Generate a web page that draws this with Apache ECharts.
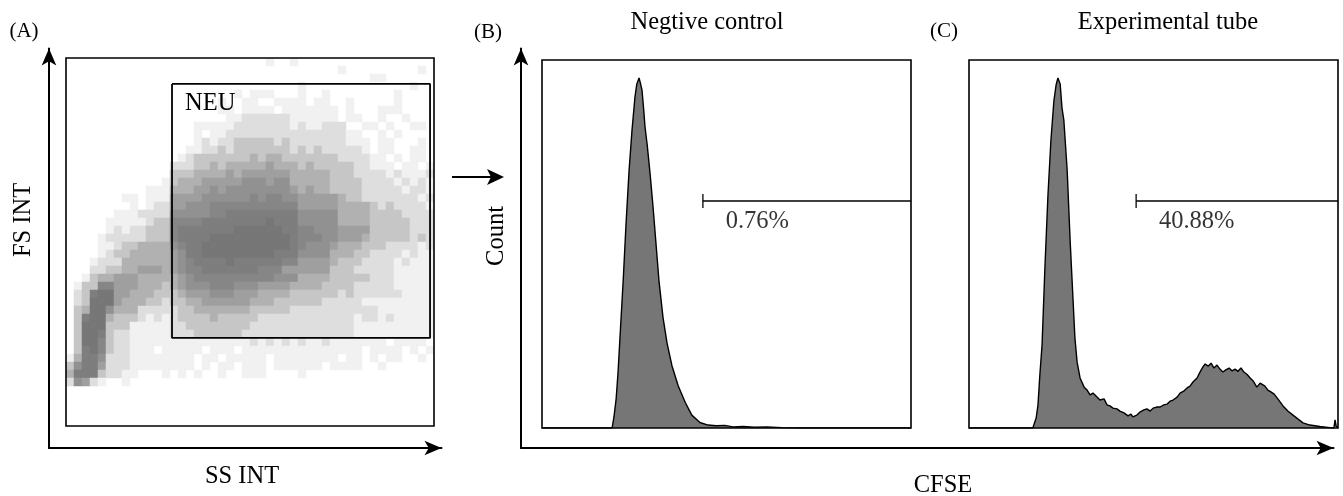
<!DOCTYPE html>
<html>
<head>
<meta charset="utf-8">
<script src="https://cdn.jsdelivr.net/npm/echarts@6/dist/echarts.min.js"></script>
<style>
html,body{margin:0;padding:0;background:#fff;}
#chart{width:1343px;height:496px;}
</style>
</head>
<body>
<div id="chart"></div>
<script>
// ---------- Panel A: SS INT vs FS INT event density (46 x 46 cells, top row first, 0-9) ----------
const densityRows = [
  "0000000000000000000000000100100000000000000000",
  "0000000000000000000000000000000000100000000010",
  "0000000000000000000000000000000000000011000000",
  "0000000000000000000000000000010000000000000100",
  "0000000000000000000001011100010010000000010000",
  "0000000000000000000100110011110110010000010000",
  "0000000000000000000110111101111111010001110000",
  "0000000000000000000011222222111111011001001000",
  "0000000000000000111112222222121122200110100110",
  "0000000000000000101122222222222222211001010000",
  "0000000000000000121223333323222222211101100010",
  "0000000000000001122323333333232322222101100110",
  "0000000000000012333333343443333333222211010110",
  "0000000000000222334344444544434333332211101101",
  "0000000000000333444454555555444443332222121112",
  "0000000000001344455555666566444443333222212121",
  "0000000000111444556566666666545443333222221221",
  "0000000110111555566666676776655555433222222212",
  "0000000010122556667777777777755555444432322221",
  "0000001112222666667788888888866666444433332222",
  "0000011111233777788888888988866666444433333222",
  "0000012122333788888889999998877666555533333222",
  "0000122222333788889999999999877766555433333232",
  "0000112334444678899999999999876665444333222212",
  "0000123344444568899999999988866664443322221211",
  "0001222444444567888898888887755554333222212111",
  "0002233445554567788888887775555553332222211111",
  "0013445554444456777777777766644443333322211111",
  "0133775554443456667776665555444433332222211111",
  "0238995544433345556665554444333333232222221111",
  "0239995444332334455555544433333322222111111111",
  "0349964442222233444444433333222222222221111111",
  "0389943332121233334333332222222222221221211111",
  "0399933311111223333333322222222222221111111111",
  "0399832211111222333333222222222222221111111111",
  "0399732211111111111111121212121121111111011110",
  "0389732211101111101110111111111111111011110101",
  "1488622211111111011011111011111111011010110010",
  "3688522211111111010110111011111101111001000000",
  "4888322110001010100100111000010000000000000000",
  "2652100100000000000000000000000000000000000000"
];
const densityCells = 46;
const channelMax = 1024;
// NEU gate, in SS/FS channel units
const neuGateSS = [295, 1013];
const neuGateFS = [245, 952];

// ---------- Panel B: negative control histogram (CFSE channel 0-1000, count % of full scale) ----------
const negCfse  = [0,190,195,201,206,211,220,228,236,244,252,257,263,266,271,276,279,285,293,301,309,317,328,339,352,369,388,406,428,450,472,495,518,545,575,610,650,700,1000];
const negCount = [0,0,3,8,15,24,40,56,70,81,90,93.5,95.1,94,91.8,86,82,77,69,60,50,40,30,23,17,11.5,7,3.5,1.5,0.8,0.6,0.7,0.3,0.4,0.2,0.3,0.1,0,0];

// ---------- Panel C: experimental tube histogram ----------
const expCfse  = [0,173,176,182,187,192,198,206,214,222,230,236,241,247,252,257,266,274,282,287,293,301,312,320,328,336,347,355,366,374,382,390,401,409,420,431,439,444,455,463,474,482,491,499,510,518,528,537,545,553,564,572,583,591,599,607,618,626,634,640,648,656,664,672,680,688,696,705,713,721,729,737,745,753,762,770,780,789,794,802,810,818,827,837,851,864,878,892,905,924,951,978,989,992,995,1000];
const expCount = [0,0,0.5,2.7,6.3,14.4,22.6,44.3,63.3,78.2,88.8,93.2,95.1,93.5,87,83.7,70.1,51.1,34.8,24.5,17.9,13.6,11.1,10.3,9.0,9.5,8.4,7.6,7.9,6.3,6.0,5.4,5.2,4.6,4.1,3.3,3.8,3.0,3.5,4.3,4.9,5.2,4.6,5.4,5.7,5.7,6.3,6.5,7.3,7.6,8.4,9.5,10.1,10.9,11.4,12.5,13.6,15.2,16.6,17.4,16.8,17.6,16.3,17.1,16.0,15.2,15.8,16.3,15.5,16.0,15.4,16.3,15.2,14.6,13.6,12.8,11.1,12.2,12.5,11.4,10.3,9.8,9.2,7.9,6.0,4.6,3.5,2.4,1.4,0.8,0.4,0.1,0,2.2,0.5,0];

// ---------- Marker gates (B, C) ----------
const gateStart = [436, 453];
const gateEnd = 1000;
const gateLevel = 61.7;
const gatePct = ['0.76%', '40.88%'];

// ---------- Text ----------
const panelLabels = ['(A)', '(B)', '(C)'];
const panelTitles = ['Negtive control', 'Experimental tube'];
const axisNames = { aX: 'SS INT', aY: 'FS INT', bcX: 'CFSE', bcY: 'Count' };
const gateName = 'NEU';

const FONT = '"Liberation Serif", "Times New Roman", serif';
const TXT = 24.5;

// build heatmap cells
const heatData = [];
densityRows.forEach(function (row, r) {
  for (let c = 0; c < row.length; c++) {
    const v = +row[c];
    if (v > 0) heatData.push([c, r, v]);
  }
});
const cellCats = [];
for (let i = 0; i < densityCells; i++) cellCats.push(String(i));

function arrowAxis(grid) {
  return {
    gridIndex: grid, type: 'value', min: 0, max: 1,
    axisLine: { show: true, onZero: false, symbol: ['none', 'arrow'], symbolSize: [11, 17],
      lineStyle: { color: '#000', width: 2 } },
    axisTick: { show: false }, axisLabel: { show: false }, splitLine: { show: false }
  };
}
function valAxis(grid, max) {
  return { gridIndex: grid, type: 'value', min: 0, max: max, show: false };
}
const boxGrid = { show: true, z: 5, backgroundColor: 'transparent', borderColor: '#000', borderWidth: 1.6, outerBoundsMode: 'none' };

const gateLineData = [
  [neuGateSS[0], neuGateFS[1]], [neuGateSS[1], neuGateFS[1]],
  [neuGateSS[1], neuGateFS[0]], [neuGateSS[0], neuGateFS[0]], [neuGateSS[0], neuGateFS[1]]
];

function pairs(xs, ys) { return xs.map(function (x, i) { return [x, ys[i]]; }); }

function histSeries(grid, xs, ys) {
  return {
    type: 'line', xAxisIndex: grid, yAxisIndex: grid, data: pairs(xs, ys),
    showSymbol: false, symbol: 'none', smooth: false, silent: true,
    lineStyle: { color: '#000', width: 1.4 },
    areaStyle: { color: '#767676', opacity: 1 }, z: 2
  };
}
function gateSeries(grid, i) {
  return [{
    type: 'line', xAxisIndex: grid, yAxisIndex: grid,
    data: [[gateStart[i], gateLevel], [gateEnd, gateLevel]],
    showSymbol: false, symbol: 'none', silent: true,
    lineStyle: { color: '#000', width: 1.5 }, z: 3
  }, {
    type: 'scatter', xAxisIndex: grid, yAxisIndex: grid,
    data: [[gateStart[i], gateLevel]], symbol: 'rect', symbolSize: [1.6, 14], silent: true,
    itemStyle: { color: '#000' }, z: 3,
    label: { show: true, formatter: gatePct[i], position: 'right', distance: 0, offset: [22, 21],
      fontFamily: FONT, fontSize: TXT, color: '#000' }
  }];
}

function txt(text, x, y, size, rot, align) {
  return {
    type: 'text', x: x, y: y, rotation: rot || 0, z: 10,
    style: { text: text, font: size + 'px ' + FONT, fill: '#000',
      textAlign: align || 'center', textVerticalAlign: 'middle' }
  };
}

const option = {
  animation: false,
  backgroundColor: '#fff',
  grid: [
    { left: 49, top: 48.5, right: 901.5, bottom: 48, outerBoundsMode: 'none' },      // A axes
    { left: 66, top: 58, width: 368, height: 368, outerBoundsMode: 'none' },          // A density
    Object.assign({ left: 66, top: 58, width: 368, height: 368 }, boxGrid),            // A box + gate
    { left: 521, top: 48.5, right: 9.5, bottom: 48, outerBoundsMode: 'none' },        // B/C axes
    Object.assign({ left: 542, top: 60, width: 369, height: 368 }, boxGrid),           // B
    Object.assign({ left: 969, top: 60, width: 369, height: 368 }, boxGrid)            // C
  ],
  xAxis: [
    arrowAxis(0),
    { gridIndex: 1, type: 'category', data: cellCats, show: false },
    valAxis(2, channelMax),
    arrowAxis(3),
    valAxis(4, 1000),
    valAxis(5, 1000)
  ],
  yAxis: [
    arrowAxis(0),
    { gridIndex: 1, type: 'category', data: cellCats, inverse: true, show: false },
    valAxis(2, channelMax),
    arrowAxis(3),
    valAxis(4, 100),
    valAxis(5, 100)
  ],
  visualMap: {
    show: false, type: 'continuous', seriesIndex: 0, dimension: 2, min: 1, max: 9,
    inRange: { color: ['#f1f1f1', '#dedede', '#c6c6c6', '#b1b1b1', '#9f9f9f', '#919191', '#868686', '#7e7e7e', '#777777'] }
  },
  series: [
    { type: 'heatmap', xAxisIndex: 1, yAxisIndex: 1, data: heatData, silent: true,
      progressive: 0, emphasis: { disabled: true } },
    { type: 'line', xAxisIndex: 2, yAxisIndex: 2, data: gateLineData, showSymbol: false,
      symbol: 'none', silent: true, lineStyle: { color: '#000', width: 1.8 }, z: 4 },
    histSeries(4, negCfse, negCount),
    histSeries(5, expCfse, expCount)
  ].concat(gateSeries(4, 0), gateSeries(5, 1)),
  graphic: [
    txt(panelLabels[0], 24, 31, 21),
    txt(panelLabels[1], 488, 32, 21),
    txt(panelLabels[2], 944, 31, 21),
    txt(panelTitles[0], 707, 23, TXT),
    txt(panelTitles[1], 1168, 23, TXT),
    txt(gateName, 185, 104, TXT, 0, 'left'),
    txt(axisNames.aY, 24, 220, TXT, Math.PI / 2),
    txt(axisNames.aX, 242, 477, TXT),
    txt(axisNames.bcY, 497, 236, TXT, Math.PI / 2),
    txt(axisNames.bcX, 943, 486, TXT),
    { type: 'line', shape: { x1: 452, y1: 177, x2: 494, y2: 177 }, style: { stroke: '#000', lineWidth: 2 } },
    { type: 'polygon', shape: { points: [[504, 177], [487, 169], [491, 177], [487, 185]] }, style: { fill: '#000' } }
  ]
};

const chart = echarts.init(document.getElementById('chart'), null, { renderer: 'canvas' });
chart.setOption(option);
</script>
</body>
</html>
